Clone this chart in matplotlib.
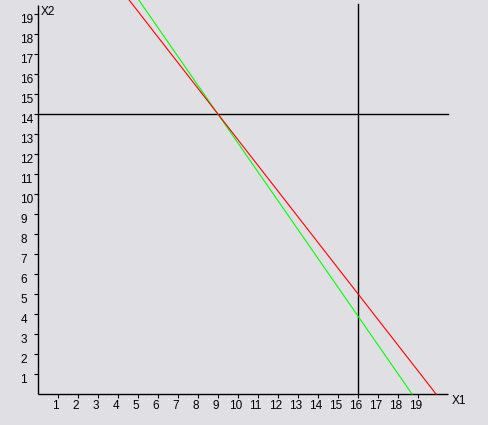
import numpy as np
import matplotlib
matplotlib.use("Agg")
import matplotlib.pyplot as plt

# axis ranges and ticks
x_ticks = list(range(1, 20))
y_ticks = list(range(1, 20))
x_axis_end = 20.5
y_axis_end = 19.45

# constraint lines (endpoints)
red_x = [4.4, 19.9]
red_y = [19.9, 0.0]
green_x = [4.9, 18.7]
green_y = [19.9, 0.0]
h_level = 14
v_level = 16
v_top = 19.5

BG = "#e0dfe3"
FONT = "Liberation Sans"

fig = plt.figure(figsize=(4.89, 4.25), dpi=100, facecolor=BG)
ax = fig.add_axes([0, 0, 1, 1])
ax.set_facecolor(BG)
# 20 px per unit, origin at pixel (38, 394)
ax.set_xlim(-38 / 20, (489 - 38) / 20)
ax.set_ylim(-(425 - 394) / 20, 394 / 20)
ax.axis("off")

lw = 1.0
ax.plot([0, x_axis_end], [0, 0], color="black", lw=lw, solid_capstyle="butt")
ax.plot([0, 0], [0, y_axis_end], color="black", lw=lw, solid_capstyle="butt")

tk = 0.2
for t in x_ticks:
    ax.plot([t, t], [0, -tk], color="black", lw=0.8, solid_capstyle="butt")
    ax.text(t - 0.12, -0.62, str(t), ha="center", va="center", fontsize=8.5,
            family=FONT)
for t in y_ticks:
    ax.plot([0, -tk], [t, t], color="black", lw=0.8, solid_capstyle="butt")
    ax.text(-0.88, t - 0.3, str(t), ha="left", va="center", fontsize=8.5,
            family=FONT)

# little white dots near tick labels
ax.plot([t + 0.5 for t in range(0, 20)], [-0.25] * 20, ls="none", marker="s",
        ms=0.7, mec="none", mfc="white")
ax.plot([-1.0] * 19, y_ticks, ls="none", marker="s", ms=0.7, mec="none",
        mfc="white")

ax.text(0.15, 19.1, "X2", ha="left", va="center", fontsize=8.5, family=FONT)
ax.text(20.7, -0.35, "X1", ha="left", va="center", fontsize=8.5, family=FONT)

ax.plot([0, x_axis_end], [h_level, h_level], color="black", lw=lw)
ax.plot([v_level, v_level], [0, v_top], color="black", lw=lw)

ax.plot(green_x, green_y, color="#00ff00", lw=0.8)
ax.plot(red_x, red_y, color="#ff0000", lw=0.8)

fig.savefig("out.png", dpi=100, facecolor=BG)
